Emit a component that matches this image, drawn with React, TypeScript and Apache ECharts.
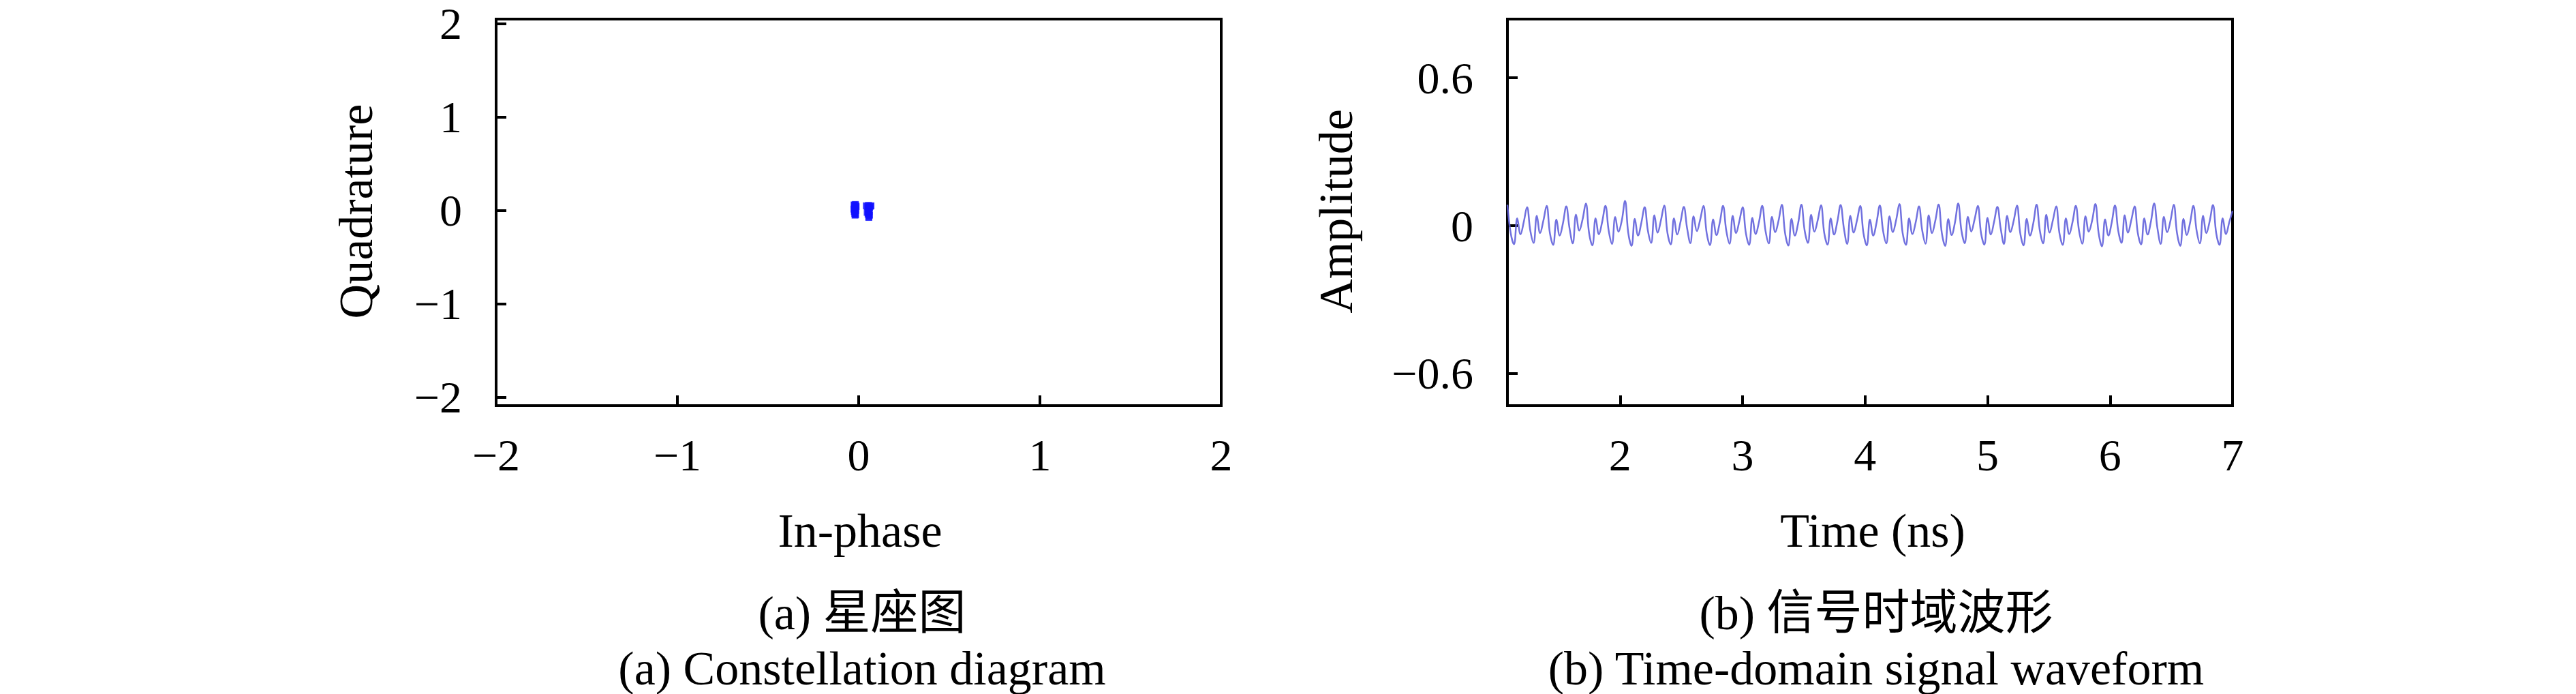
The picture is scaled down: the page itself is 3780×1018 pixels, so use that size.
import React, { useEffect, useRef } from "react";
import * as echarts from "echarts";

// ---- Data ----
const CONST_A_I = [-0.025, -0.015, -0.02, -0.018, -0.022, -0.016, -0.024, -0.019, -0.021, -0.017, -0.023, -0.02, -0.014, -0.026, -0.02, -0.018];
const CONST_A_Q = [0.06, 0.05, 0.03, 0.02, 0.01, 0.0, -0.01, -0.02, -0.03, -0.045, 0.055, -0.035, 0.04, 0.015, -0.05, 0.065];
const CONST_B_I = [0.042, 0.068, 0.05, 0.06, 0.055, 0.057, 0.053, 0.058, 0.055, 0.052, 0.06, 0.056, 0.064, 0.047, 0.056, 0.054];
const CONST_B_Q = [0.05, 0.05, 0.04, 0.03, 0.02, 0.01, 0.0, -0.01, -0.03, -0.04, -0.05, -0.065, 0.045, -0.02, -0.075, 0.055];

const I_TICKS = [-2, -1, 0, 1, 2];
const Q_TICKS = [-2, -1, 0, 1, 2];
const TIME_TICKS = [2, 3, 4, 5, 6, 7];
const AMP_TICKS = [-0.6, 0, 0.6];

const TIME_START = 1.08; // ns
const SAMPLE_STEP = 0.16 / 6; // ns
const WAVE = [
  0.085, -0.03, -0.075, 0.030, -0.035, 0.015,
  0.075, -0.02, -0.070, 0.040, -0.030, 0.020,
  0.080, -0.03, -0.078, 0.025, -0.040, 0.010,
  0.078, -0.01, -0.072, 0.045, -0.020, 0.025,
  0.090, -0.03, -0.080, 0.030, -0.035, 0.015,
  0.080, -0.02, -0.074, 0.035, -0.025, 0.020,
  0.100, -0.03, -0.082, 0.028, -0.040, 0.012,
  0.075, -0.02, -0.070, 0.042, -0.028, 0.022,
  0.082, -0.03, -0.076, 0.030, -0.036, 0.016,
  0.076, -0.01, -0.071, 0.038, -0.022, 0.024,
  0.080, -0.03, -0.079, 0.026, -0.038, 0.012,
  0.080, -0.02, -0.073, 0.040, -0.030, 0.018,
  0.075, -0.03, -0.078, 0.032, -0.034, 0.014,
  0.080, -0.02, -0.072, 0.036, -0.026, 0.020,
  0.085, -0.03, -0.081, 0.028, -0.040, 0.010,
  0.085, -0.02, -0.070, 0.044, -0.024, 0.022,
  0.083, -0.03, -0.077, 0.030, -0.036, 0.016,
  0.084, -0.01, -0.074, 0.040, -0.028, 0.020,
  0.080, -0.03, -0.080, 0.025, -0.040, 0.012,
  0.082, -0.02, -0.072, 0.038, -0.026, 0.022,
  0.088, -0.03, -0.078, 0.030, -0.034, 0.014,
  0.078, -0.02, -0.073, 0.042, -0.030, 0.020,
  0.086, -0.03, -0.082, 0.027, -0.038, 0.012,
  0.090, -0.02, -0.071, 0.036, -0.024, 0.024,
  0.080, -0.03, -0.077, 0.032, -0.036, 0.016,
  0.076, -0.01, -0.074, 0.040, -0.026, 0.020,
  0.082, -0.03, -0.080, 0.028, -0.040, 0.010,
  0.085, -0.02, -0.072, 0.044, -0.028, 0.022,
  0.078, -0.03, -0.078, 0.030, -0.034, 0.014,
  0.080, -0.02, -0.073, 0.038, -0.024, 0.020,
  0.088, -0.03, -0.084, 0.026, -0.040, 0.012,
  0.082, -0.02, -0.070, 0.042, -0.028, 0.022,
  0.078, -0.03, -0.076, 0.030, -0.036, 0.016,
  0.090, -0.01, -0.074, 0.036, -0.026, 0.020,
  0.085, -0.03, -0.082, 0.028, -0.038, 0.012,
  0.080, -0.02, -0.072, 0.040, -0.030, 0.018,
  0.084, -0.03, -0.078, 0.030, -0.034, 0.014,
  0.060,
];

const FONT = '"Liberation Serif", "Noto Sans CJK SC", serif';
const fmt = (v: number) => String(v).replace("-", "\u2212");

export default function App() {
  const ref = useRef<HTMLDivElement>(null);
  useEffect(() => {
    if (!ref.current) return;
    const chart = echarts.init(ref.current, undefined, { renderer: "svg" });
    const waveData = WAVE.map((v, i) => [TIME_START + i * SAMPLE_STEP, v]);
    const aPts = CONST_A_I.map((x, i) => [x, CONST_A_Q[i]]);
    const bPts = CONST_B_I.map((x, i) => [x, CONST_B_Q[i]]);

    const tickStyle = { show: true, inside: true, length: 15, lineStyle: { color: "#000", width: 4 } };
    const labelBase = { color: "#000", fontFamily: FONT, fontSize: 66, lineHeight: 60, formatter: fmt };
    const noLine = { show: false, onZero: false };

    const text = (t: string, x: number, y: number, size: number, rot = 0) => ({
      type: "text",
      x,
      y,
      rotation: rot,
      style: {
        text: t,
        fill: "#000",
        font: `${size}px ${FONT}`,
        align: "center",
        verticalAlign: "middle",
        textAlign: "center",
        textVerticalAlign: "middle",
      },
    });

    chart.setOption({
      animation: false,
      backgroundColor: "#fff",
      grid: [
        { left: 728, top: 28, width: 1064, height: 567, show: true, borderColor: "#000", borderWidth: 4, backgroundColor: "transparent" },
        { left: 2212, top: 28, width: 1064, height: 567, show: true, borderColor: "#000", borderWidth: 4, backgroundColor: "transparent" },
      ],
      xAxis: [
        {
          type: "value", gridIndex: 0, min: -2, max: 2, position: "bottom",
          axisLine: noLine, splitLine: { show: false },
          axisTick: { ...tickStyle, customValues: I_TICKS },
          axisLabel: { ...labelBase, margin: 42, customValues: I_TICKS },
        },
        {
          type: "value", gridIndex: 1, min: TIME_START, max: 7, position: "bottom",
          axisLine: noLine, splitLine: { show: false },
          axisTick: { ...tickStyle, customValues: TIME_TICKS },
          axisLabel: { ...labelBase, margin: 42, customValues: TIME_TICKS },
        },
      ],
      yAxis: [
        {
          type: "value", gridIndex: 0, min: -2.09, max: 2.05, position: "left",
          axisLine: noLine, splitLine: { show: false },
          axisTick: { ...tickStyle, customValues: Q_TICKS },
          axisLabel: { ...labelBase, margin: 50, customValues: Q_TICKS },
        },
        {
          type: "value", gridIndex: 1, min: -0.73, max: 0.838, position: "left",
          axisLine: noLine, splitLine: { show: false },
          axisTick: { ...tickStyle, customValues: AMP_TICKS },
          axisLabel: { ...labelBase, margin: 50, customValues: AMP_TICKS },
        },
      ],
      series: [
        {
          type: "scatter", xAxisIndex: 0, yAxisIndex: 0, data: aPts,
          symbol: "rect", symbolSize: 10, itemStyle: { color: "#1010ff" },
        },
        {
          type: "scatter", xAxisIndex: 0, yAxisIndex: 0, data: bPts,
          symbol: "rect", symbolSize: 10, itemStyle: { color: "#1010ff" },
        },
        {
          type: "line", xAxisIndex: 1, yAxisIndex: 1, data: waveData,
          showSymbol: false, smooth: 0.4,
          lineStyle: { color: "#6262dc", width: 2.5, opacity: 0.9 },
        },
      ],
      graphic: [
        text("Quadrature", 522, 310, 70, Math.PI / 2),
        text("Amplitude", 1960, 310, 70, Math.PI / 2),
        text("In-phase", 1262, 778, 70),
        text("Time (ns)", 2748, 778, 70),
        text("(a) 星座图", 1265, 899, 70),
        text("(b) 信号时域波形", 2753, 899, 70),
        text("(a) Constellation diagram", 1265, 980, 70),
        text("(b) Time-domain signal waveform", 2753, 980, 70),
      ],
    });
    return () => chart.dispose();
  }, []);
  return <div ref={ref} style={{ position: "fixed", left: 0, top: 0, width: 3780, height: 1018 }} />;
}
